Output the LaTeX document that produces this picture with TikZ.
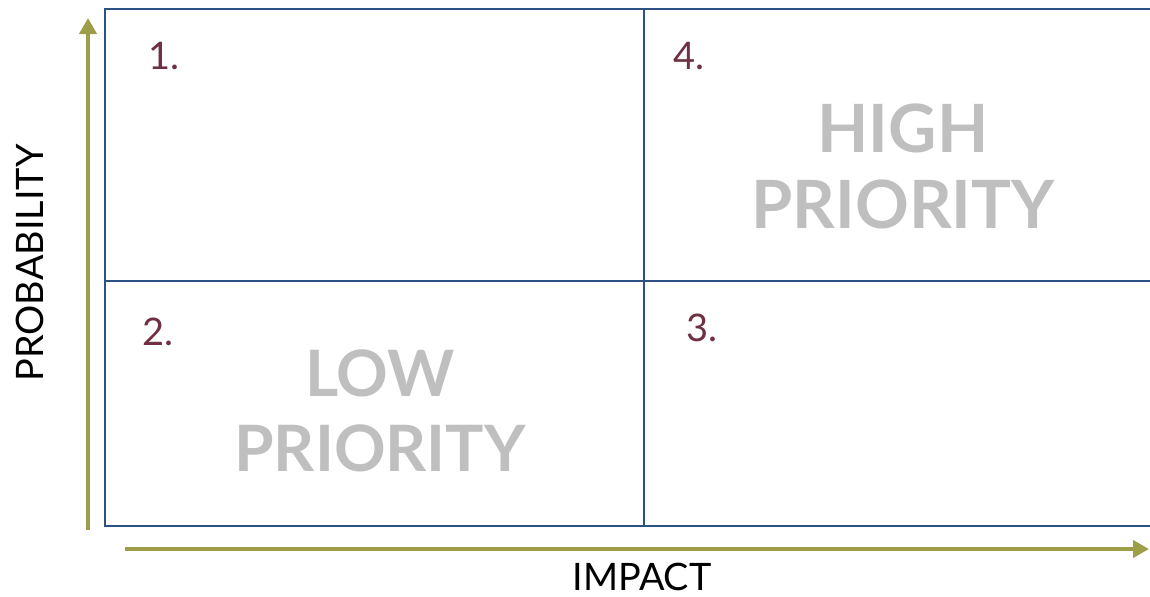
\documentclass[tikz,border=0pt]{standalone}
\usepackage{fontspec}
\setmainfont{Lato}
\usetikzlibrary{arrows.meta}
\definecolor{gridblue}{HTML}{2B5283}
\definecolor{axisolive}{HTML}{9E9D48}
\definecolor{nummaroon}{HTML}{6E3042}
\definecolor{priogray}{HTML}{BFBFBF}
\begin{document}
\begin{tikzpicture}
[x=0.5pt,y=-0.5pt,
 axis/.style={draw=axisolive,line width=2pt,
              -{Triangle[length=8pt,width=8.5pt]}},
 cell/.style={draw=gridblue,line width=1.3pt},
 num/.style={text=nummaroon,font=\fontsize{19}{23}\selectfont},
 prio/.style={text=priogray,align=center,
              font=\bfseries\fontsize{33.3}{38}\selectfont},
 axislabel/.style={inner sep=0pt,font=\fontsize{18.9}{22}\selectfont}]
\useasboundingbox (0,0) rectangle (1150,596);
% quadrants
\draw[cell] (105,9) rectangle (1152,526);
\draw[cell] (644,9) -- (644,526);
\draw[cell] (105,281) -- (1152,281);
% axes
\coordinate (ystart) at (88,530);
\coordinate (yend) at (88,18);
\coordinate (xstart) at (125,549);
\coordinate (xend) at (1149,549);
\draw[axis] (ystart) -- (yend);
\draw[axis] (xstart) -- (xend);
\node[axislabel,rotate=90] (prob) at (30,263) {PROBABILITY};
\node[axislabel,anchor=base] (impact) at (642,590) {IMPACT};
% quadrant numbers
\node[num] (q1) at (164,56) {1.};
\node[num] (q2) at (158,332) {2.};
\node[num] (q3) at (702,328) {3.};
\node[num] (q4) at (689,56) {4.};
% priorities
\node[prio] (high) at (903,166) {HIGH\\PRIORITY};
\node[prio,font=\bfseries\fontsize{32}{37.5}\selectfont]
  (low) at (380,411) {LOW\\PRIORITY};
\end{tikzpicture}
\end{document}
